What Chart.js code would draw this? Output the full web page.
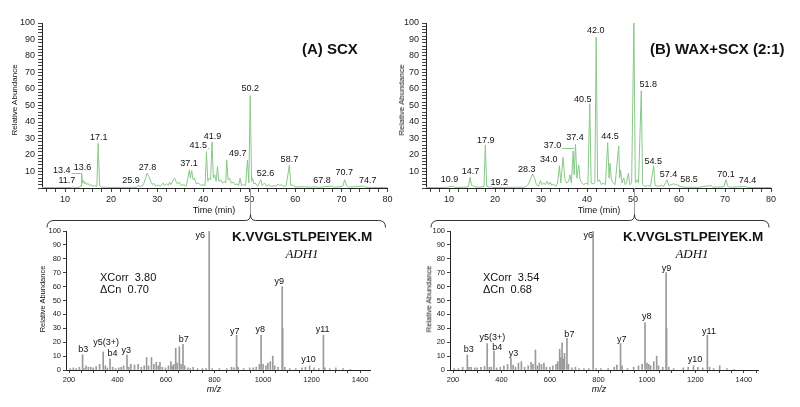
<!DOCTYPE html>
<html>
<head>
<meta charset="utf-8">
<title>SCX vs WAX+SCX</title>
<script src="https://cdn.jsdelivr.net/npm/chart.js@4.4.1/dist/chart.umd.min.js"></script>
<style>
  body { margin: 0; background: #fff; }
  #fig { position: relative; width: 800px; height: 407px; overflow: hidden; font-family: Arial, "Liberation Sans", sans-serif; color: #111; }
  #fig canvas { position: absolute; }
  .txt { position: absolute; white-space: nowrap; line-height: 1; }
  .bold { font-weight: bold; }
  .serif { font-family: "Liberation Serif", "Times New Roman", serif; font-style: italic; }
  .vert { transform: translate(-50%, -50%) rotate(-90deg); }
  .mid { transform: translate(-50%, -50%); }
  .lft { transform: translateY(-50%); }
</style>
</head>
<body>
<div id="fig">
  <canvas id="cA" width="400" height="232" style="left:0;top:0"></canvas>
  <canvas id="cB" width="400" height="232" style="left:400px;top:0"></canvas>
  <canvas id="cC" width="400" height="185" style="left:0;top:222px"></canvas>
  <canvas id="cD" width="400" height="185" style="left:400px;top:222px"></canvas>

  <div class="txt bold lft" style="left:302px;top:48px;font-size:15px">(A) SCX</div>
  <div class="txt bold lft" style="left:650px;top:48px;font-size:15px">(B) WAX+SCX (2:1)</div>
  <div class="txt vert" style="left:15px;top:100px;font-size:8px">Relative Abundance</div>
  <div class="txt vert" style="left:402px;top:100px;font-size:8px">Relative Abundance</div>
  <div class="txt mid" style="left:214px;top:210px;font-size:9px">Time (min)</div>
  <div class="txt mid" style="left:599px;top:210px;font-size:9px">Time (min)</div>

  <div class="txt bold lft" style="left:232px;top:237px;font-size:13.5px">K.VVGLSTLPEIYEK.M</div>
  <div class="txt bold lft" style="left:623px;top:237px;font-size:13.5px">K.VVGLSTLPEIYEK.M</div>
  <div class="txt mid serif" style="left:302px;top:253px;font-size:13px">ADH1</div>
  <div class="txt mid serif" style="left:692px;top:253px;font-size:13px">ADH1</div>
  <div class="txt lft" style="left:100px;top:277px;font-size:11px">XCorr&nbsp; 3.80</div>
  <div class="txt lft" style="left:100px;top:289px;font-size:11px">&Delta;Cn&nbsp; 0.70</div>
  <div class="txt lft" style="left:483px;top:277px;font-size:11px">XCorr&nbsp; 3.54</div>
  <div class="txt lft" style="left:483px;top:289px;font-size:11px">&Delta;Cn&nbsp; 0.68</div>
  <div class="txt vert" style="left:43px;top:299px;font-size:7.5px">Relative Abundance</div>
  <div class="txt vert" style="left:429px;top:299px;font-size:7.5px">Relative Abundance</div>
  <div class="txt mid" style="left:214px;top:389px;font-size:9px;font-style:italic">m/z</div>
  <div class="txt mid" style="left:599px;top:389px;font-size:9px;font-style:italic">m/z</div>
</div>
<script>
// chromatogram traces, [time (min), relative abundance]
const traceSCX = [
  [5,0.3],[8,0.3],[11.4,0.3],[11.7,0.8],[12,0.3],[13.2,0.5],[13.4,1.5],[13.5,1],[13.6,9],[13.8,3],
  [14.0,4.5],[14.2,2.5],[14.4,3.5],[14.7,2],[15.0,2.8],[15.3,1.5],[15.6,2],[16.0,1],[16.4,1.5],[16.9,0.8],
  [17.2,27],[17.5,1.5],[17.9,0.5],[20,0.3],[25.5,0.4],[25.9,1.5],[26.3,0.8],[27.0,2],[27.5,6],[27.8,9],
  [28.2,7],[28.6,4],[29.0,2],[29.3,2.8],[29.7,1.2],[30.3,1.8],[30.7,1],[31.3,3],[31.6,1.5],[32.0,2.5],
  [32.4,1.5],[32.7,3.5],[33.0,2],[33.5,5],[33.8,6],[34.1,4],[34.4,2.5],[34.8,3.5],[35.2,1.5],[35.8,2],
  [36.3,1],[37.0,11],[37.2,6],[37.5,10.5],[37.8,5],[38.1,6],[38.5,2.5],[39.0,3],[39.5,1.5],[40.0,2],
  [40.4,1.5],[40.7,22],[41.0,4],[41.3,6],[41.6,5],[41.9,28],[42.2,6],[42.5,8],[42.8,4],[43.1,13],
  [43.4,4],[43.8,5],[44.2,3],[44.6,4],[44.9,3],[45.1,17],[45.4,5],[45.7,6],[46.1,3],[46.5,3.5],
  [46.9,2],[47.3,2.5],[47.7,1.5],[48.0,6],[48.3,1.5],[48.8,2],[49.2,1.5],[49.6,17],[49.9,3],[50.2,56],
  [50.5,4],[50.7,6],[51.0,2.5],[51.3,3],[51.8,1],[52.5,5],[52.8,1.5],[53.3,3],[53.7,1.2],[54.2,2],
  [54.8,1],[55.4,1.5],[55.8,1],[56.2,2.5],[56.6,1.5],[57.0,2],[57.5,1],[58.0,1.2],[58.7,14],[59.0,1.5],
  [59.4,1.8],[60,0.6],[62,0.8],[63,0.5],[64.5,0.8],[65,0.4],[67.8,1.2],[68.5,0.4],[70.3,1],[70.7,5],
  [71.1,1.5],[71.6,0.5],[74.7,1.2],[75.3,0.4],[78,0.3],[80,0.3]
];
const traceWAX = [
  [5,0.3],[9,0.3],[10.9,1],[11.3,0.3],[14.2,0.6],[14.6,6.5],[14.9,1.5],[15.3,1.2],[15.8,0.6],[16.5,0.5],
  [17.6,0.8],[17.9,26],[18.2,1],[18.8,0.4],[19.2,0.8],[19.6,0.3],[26.5,0.5],[27.2,2],[27.8,6],[28.2,8.5],
  [28.6,6],[29.0,2],[29.4,1],[29.9,4.5],[30.2,2],[30.6,3],[31.0,2],[31.3,4],[31.7,2],[32.0,3.5],
  [32.4,1.5],[32.7,2.5],[33.2,1],[33.6,3],[34.0,13.5],[34.3,3],[34.8,18.5],[35.2,5],[35.6,3],[36.0,4],
  [36.3,8],[36.6,3],[37.0,22.5],[37.2,8],[37.5,26.5],[37.8,6],[38.2,14],[38.5,5],[38.9,3],[39.3,2],
  [39.8,3],[40.2,2],[40.6,51],[40.9,3],[41.3,2.5],[41.7,3],[42.0,91.5],[42.3,4],[42.7,5],[43.1,2],
  [43.5,3],[44.0,2],[44.5,27.5],[44.8,6],[45.0,15],[45.3,5],[45.7,3],[46.1,2],[46.9,25.5],[47.1,6],
  [47.3,11],[47.6,3],[48.0,6],[48.3,2],[48.6,3],[49.0,9],[49.3,2],[49.7,3],[50.2,100],[50.5,3],
  [50.9,5],[51.2,3],[51.8,59],[52.1,2],[52.6,1],[53.2,1.5],[53.8,1],[54.5,13.5],[54.8,1.5],[55.5,1],
  [56.3,1.5],[56.7,1],[57.4,5],[57.8,1.5],[58.3,2],[58.8,2.5],[59.5,2],[60.2,1],[61,0.5],[64,0.4],
  [67,1.5],[67.3,0.4],[69.8,0.8],[70.2,5],[70.6,1],[71.2,0.4],[74.4,1],[74.8,0.3],[80,0.3]
];

// peak labels: [text, time, abundance level of label centre, leader line end (optional)]
const peakLabelsSCX = [
  ['13.4',9.3,10.8,13.4], ['11.7',10.4,4.7], ['13.6',13.8,12.6], ['17.1',17.3,30.3], ['25.9',24.3,4.7],
  ['27.8',27.9,12.6], ['37.1',36.9,14.9], ['41.5',38.9,26,41.3], ['41.9',42.0,31.5], ['49.7',47.5,21.2],
  ['50.2',50.2,60.2], ['52.6',53.5,8.8], ['58.7',58.7,17.3], ['67.8',65.8,4.7], ['70.7',70.6,9.1],
  ['74.7',75.7,4.7]
];
const peakLabelsWAX = [
  ['10.9',10.1,4.9], ['14.7',14.7,9.8], ['17.9',18.0,28.7], ['19.2',20.9,3.2], ['28.3',26.9,11.4],
  ['34.0',31.7,17.5], ['37.0',32.5,26,37.2], ['37.4',37.4,30.7], ['40.5',39.1,53.7], ['42.0',41.9,95.7],
  ['44.5',45.0,31.3], ['51.8',53.3,62.6], ['54.5',54.4,15.9], ['57.4',57.7,8.4], ['58.5',62.2,4.9],
  ['70.1',70.2,8.4], ['74.4',74.9,4.3]
];

// MS/MS spectra, [m/z, relative abundance]
const spectrumSCX = [
  [205,1],[218,1.5],[230,1],[243,2],[256,11],[262,1],[270,3],[280,2],[290,2],[300,1.5],
  [312,2.5],[326,4],[341,13],[350,3],[358,1.5],[369,8],[380,2],[392,1],[405,1.5],[415,2],
  [425,3],[439,10.8],[446,2],[455,4],[470,3.5],[485,4],[498,2],[510,3],[520,9],[528,3],
  [540,9],[550,4],[560,5.5],[568,3],[575,5.5],[585,2],[598,1.5],[610,3],[620,6],[626,3],
  [632,4],[640,15.6],[646,5],[655,16.7],[662,4],[670,18.5],[677,3],[690,1.5],[700,1],[712,2],
  [730,1],[750,1],[765,1],[778,100],[790,1],[820,1],[850,1],[870,2],[880,1.5],[891,25],
  [897,2],[920,1],[945,1.5],[960,1.5],[972,2],[985,4],[992,25],[1000,4],[1012,3],[1020,5],
  [1030,6],[1040,10],[1048,3],[1062,2],[1079,60],[1081,30],[1090,2],[1110,1],[1135,1],[1160,1.5],
  [1175,2],[1192,3],[1210,1.5],[1230,1],[1249,25],[1255,1.5],[1275,1],[1300,1.5],[1330,1],[1360,0.5]
];
const spectrumWAX = [
  [205,1],[222,1],[240,2],[259,10.8],[266,2],[275,2],[290,1.5],[300,1.5],[315,2],[330,2.5],
  [341,19],[350,2],[358,2],[369,13.7],[380,1.5],[395,2],[410,3],[425,4],[439,8.4],[448,3.5],
  [458,2],[470,5],[482,6],[495,2],[510,3],[522,5.5],[530,4],[540,14.4],[548,3],[556,5],
  [565,4],[575,5],[585,2],[600,2],[612,3],[625,4],[632,6],[640,15],[645,9],[650,19.5],
  [655,8],[660,12],[670,22.8],[676,4],[690,1.5],[705,2],[720,1],[740,1],[760,1],[778,100],
  [790,1],[810,1],[840,1],[865,2],[876,3.5],[891,19],[897,3],[920,1],[945,2],[965,3],
  [980,4],[992,34],[1000,5],[1008,4],[1015,3],[1028,6],[1040,10],[1048,3],[1065,2],[1079,70],
  [1081,30],[1090,2],[1110,1],[1150,1.5],[1170,2],[1192,3],[1210,2],[1230,1.5],[1249,25],[1258,2],
  [1275,1],[1300,3],[1330,1],[1360,0.5]
];

// fragment ion labels: [text, m/z of label centre, level of label centre]
const ionLabelsSCX = [
  ['b3',259,14.9], ['y5(3+)',353,19.7], ['b4',379,11.5], ['y3',436,13.7], ['b7',673,21.6],
  ['y6',741,96.6], ['y7',883,27.6], ['y8',988,28.8], ['y9',1067,63.5], ['y10',1187,7.2], ['y11',1246,28.8]
];
const ionLabelsWAX = [
  ['b3',265,14.4], ['y5(3+)',362,23.5], ['b4',383,16.3], ['y3',450,12], ['b7',680,25.2],
  ['y6',758,96.4], ['y7',896,21.6], ['y8',999,38.4], ['y9',1081,73.2], ['y10',1198,7.7], ['y11',1256,28]
];

// the 50.2 min peak whose spectrum is shown below
const selectedTime = 50.2;

const GREEN = '#88c988';
const GREY = '#9a9a9a';
const FONT = 'Arial, "Liberation Sans", sans-serif';

Chart.defaults.font.family = FONT;

function range(from, to, step) {
  const out = [];
  for (let v = from; v <= to + 1e-9; v += step) out.push(v);
  return out;
}

// only every 10th value gets a label on the chromatogram axes
const tenOnly = v => (v % 10 === 0 && v > 0 ? String(v) : '');

function labelPlugin(items, size) {
  return {
    id: 'peakLabels',
    afterDatasetsDraw(chart) {
      const { ctx, scales: { x, y } } = chart;
      ctx.save();
      ctx.font = size + 'px ' + FONT;
      ctx.fillStyle = '#111';
      ctx.textAlign = 'center';
      ctx.textBaseline = 'middle';
      items.forEach(([txt, px, py, lead]) => {
        const cx = x.getPixelForValue(px);
        const cy = y.getPixelForValue(py);
        ctx.fillText(txt, cx, cy);
        if (lead !== undefined) {
          const w = ctx.measureText(txt).width;
          const ly = Math.round(cy + 3) + 0.5;
          ctx.strokeStyle = GREEN;
          ctx.lineWidth = 1;
          ctx.beginPath();
          ctx.moveTo(cx + w / 2 + 1, ly);
          ctx.lineTo(x.getPixelForValue(lead), ly);
          ctx.stroke();
        }
      });
      ctx.restore();
    }
  };
}

// curly brace under the chromatogram, pointing at the selected peak
function bracePlugin(at, level, insetL, insetR) {
  return {
    id: 'brace',
    afterDraw(chart) {
      const { ctx, chartArea: a, scales: { x } } = chart;
      const tip = Math.round(x.getPixelForValue(at)) + 0.5;
      const l = a.left + insetL, r = a.right - insetR;
      const yb = level + 0.5;
      ctx.save();
      ctx.lineWidth = 1;
      ctx.strokeStyle = '#999';
      ctx.beginPath();
      ctx.moveTo(tip, a.bottom);
      ctx.lineTo(tip, yb - 6);
      ctx.stroke();
      ctx.strokeStyle = '#333';
      ctx.beginPath();
      ctx.moveTo(l, yb + 7);
      ctx.quadraticCurveTo(l, yb, l + 7, yb);
      ctx.lineTo(tip - 5, yb);
      ctx.quadraticCurveTo(tip, yb, tip, yb - 6);
      ctx.quadraticCurveTo(tip, yb, tip + 5, yb);
      ctx.lineTo(r - 7, yb);
      ctx.quadraticCurveTo(r, yb, r, yb + 7);
      ctx.stroke();
      ctx.restore();
    }
  };
}

function axisLook(size, tickLen, pad) {
  return {
    border: { display: true, color: '#222', width: 1 },
    grid: { drawOnChartArea: false, drawTicks: true, tickLength: tickLen, color: '#444', offset: false },
    ticks: { autoSkip: false, maxRotation: 0, padding: pad, color: '#222', font: { family: FONT, size: size } }
  };
}

function chromatogram(id, trace, labels, yWidth, padRight) {
  const xLook = axisLook(9, 4, 2);
  const yLook = axisLook(9, 4, 3);
  xLook.ticks.callback = tenOnly;
  yLook.ticks.callback = tenOnly;
  return new Chart(document.getElementById(id), {
    type: 'line',
    data: {
      datasets: [{
        data: trace.map(p => ({ x: p[0], y: p[1] })),
        borderColor: GREEN,
        borderWidth: 1,
        pointRadius: 0,
        tension: 0
      }]
    },
    options: {
      responsive: false,
      animation: false,
      events: [],
      layout: { padding: { left: 0, right: padRight, top: 23, bottom: 0 }, autoPadding: false },
      plugins: { legend: { display: false }, tooltip: { enabled: false } },
      scales: {
        x: Object.assign(xLook, {
          type: 'linear', min: 5, max: 80,
          afterBuildTicks: s => { s.ticks = range(6, 80, 2).map(v => ({ value: v })); },
          afterFit: s => { s.height = 44; s.paddingLeft = 0; s.paddingRight = 0; }
        }),
        y: Object.assign(yLook, {
          min: 0, max: 100,
          afterBuildTicks: s => { s.ticks = range(0, 100, 2).map(v => ({ value: v })); },
          afterFit: s => { s.width = yWidth; s.paddingTop = 0; s.paddingBottom = 0; }
        })
      }
    },
    plugins: [labelPlugin(labels, 9), bracePlugin(selectedTime, 220, 5, 2)]
  });
}

function spectrum(id, peaks, labels, yWidth, padRight, mzMax) {
  const xLook = axisLook(7.5, 3, 2);
  const yLook = axisLook(7.5, 3, 2);
  xLook.ticks.callback = v => (v % 200 === 0 ? String(v) : '');
  yLook.ticks.stepSize = 10;
  return new Chart(document.getElementById(id), {
    type: 'bar',
    data: {
      datasets: [{
        data: peaks.map(p => ({ x: p[0], y: p[1] })),
        backgroundColor: GREY,
        borderWidth: 0,
        barThickness: 1,
        grouped: false
      }]
    },
    options: {
      responsive: false,
      animation: false,
      events: [],
      layout: { padding: { left: 0, right: padRight, top: 9, bottom: 0 }, autoPadding: false },
      plugins: { legend: { display: false }, tooltip: { enabled: false } },
      scales: {
        x: Object.assign(xLook, {
          type: 'linear', min: 187.6, max: mzMax, offset: false,
          afterBuildTicks: s => { s.ticks = range(200, mzMax, 50).map(v => ({ value: v })); },
          afterFit: s => { s.height = 37; s.paddingLeft = 0; s.paddingRight = 0; }
        }),
        y: Object.assign(yLook, {
          min: 0, max: 100,
          afterFit: s => { s.width = yWidth; s.paddingTop = 0; s.paddingBottom = 0; }
        })
      }
    },
    plugins: [labelPlugin(labels, 9)]
  });
}

chromatogram('cA', traceSCX, peakLabelsSCX, 42, 12.5);
chromatogram('cB', traceWAX, peakLabelsWAX, 26, 29);
spectrum('cC', spectrumSCX, ionLabelsSCX, 66, 30, 1441);
spectrum('cD', spectrumWAX, ionLabelsWAX, 50, 42, 1458);
</script>
</body>
</html>
